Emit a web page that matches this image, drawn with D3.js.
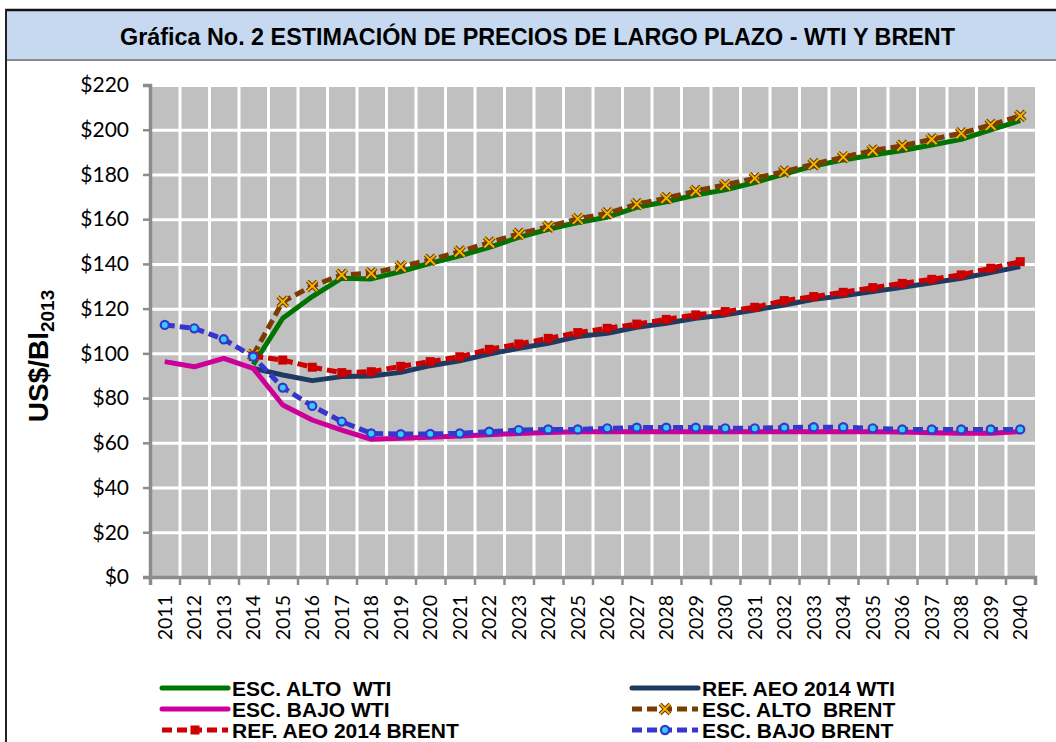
<!DOCTYPE html>
<html>
  <head>
    <meta charset="utf-8">
    <script src="https://cdn.jsdelivr.net/npm/d3@7"></script>

    <style>
      body {
        margin: 0;
        background: white;
      }
      .title {
        font-family: "Liberation Sans", Arial, sans-serif;
        font-weight: bold;
        font-size: 23px;
      }
      .tick text {
        font-family: Lato, "Open Sans", sans-serif;
        fill: black;
      }
      .legend text {
        font-family: "Liberation Sans", Arial, sans-serif;
        font-weight: bold;
        font-size: 21px;
        white-space: pre;
      }
    </style>
  </head>

  <body>
    <script type="text/javascript">

      // years on the x axis
      var years = d3.range(2011, 2041).map(String);

      // y axis ticks
      var yTicks = [0, 20, 40, 60, 80, 100, 120, 140, 160, 180, 200, 220];

      // series values, US$/Bl 2013, one per year (null = no data)
      var escAltoWti = [null, null, null, 95, 115.7, 125.4, 133.6, 133.3, 136.6, 140.3,
                        143.6, 147.4, 151.9, 155.5, 158.5, 160.9, 165.3, 167.8, 170.8, 173.1,
                        176.4, 180.2, 183.8, 186.5, 188.7, 190.7, 193.2, 195.7, 199.9, 204.1];
      var refWti = [null, null, null, 93.3, 90.3, 87.8, 89.6, 89.9, 91.5, 94.5,
                    96.7, 99.7, 102.3, 104.5, 107.5, 109, 111.7, 113.5, 115.7, 117.2,
                    119.4, 121.6, 124.2, 125.7, 127.6, 129.5, 131.6, 133.6, 136.1, 138.8];
      var escBajoWti = [96.3, 94, 97.8, 93.3, 76.9, 70.2, 65.7, 61.6, 62, 62.5,
                        63, 63.6, 64.2, 64.6, 65, 65, 65, 65, 65, 65,
                        65, 65, 65, 65, 65, 64.8, 64.5, 64.3, 64.3, 65];
      var escAltoBrent = [null, null, null, 99.3, 123.1, 130.1, 135.1, 135.8, 138.8, 141.8,
                          145.5, 149.5, 153.4, 156.7, 160.1, 162.6, 166.7, 169.4, 172.6, 175.3,
                          178.3, 181.3, 184.6, 187.7, 190.7, 192.8, 195.7, 198.4, 202.1, 206.2];
      var refBrent = [null, null, null, 98.8, 97, 93.8, 91.4, 91.8, 94.2, 96.3,
                      98.5, 101.8, 104.2, 106.7, 109.3, 111.2, 113.1, 115.2, 117.2, 118.7,
                      120.6, 123.6, 125.4, 127.3, 129.4, 131.3, 133.1, 135.1, 138.1, 141];
      var escBajoBrent = [112.7, 111.2, 106.3, 98.5, 84.7, 76.5, 69.5, 64.2, 63.9, 64,
                          64.2, 65, 65.7, 66, 66, 66.5, 66.8, 66.8, 66.8, 66.5,
                          66.5, 66.8, 67, 67, 66.5, 66, 66, 66, 66, 66];

      // series in legend order (two columns, filled row by row)
      var series = [
        {name: "ESC. ALTO  WTI", values: escAltoWti, color: "#007400", dash: null, marker: null},
        {name: "REF. AEO 2014 WTI", values: refWti, color: "#1f3a60", dash: null, marker: null},
        {name: "ESC. BAJO WTI", values: escBajoWti, color: "#cc0099", dash: null, marker: null},
        {name: "ESC. ALTO  BRENT", values: escAltoBrent, color: "#7a3c00", dash: "10,5", marker: "x"},
        {name: "REF. AEO 2014 BRENT", values: refBrent, color: "#cc0000", dash: "10,5", marker: "square"},
        {name: "ESC. BAJO BRENT", values: escBajoBrent, color: "#3636cc", dash: "10,5", marker: "circle"}
      ];

      var W = 1056, H = 742;
      var margin = {left: 150, top: 85},
          width = 885,
          height = 492;

      var svg = d3.select("body")
        .append("svg")
          .attr("width", W)
          .attr("height", H);

      // frame and title bar
      svg.append("rect")
        .attr("x", 6).attr("y", 10)
        .attr("width", W).attr("height", 50)
        .attr("fill", "#c6d9f1");
      svg.append("line")
        .attr("x1", 5).attr("x2", W).attr("y1", 10).attr("y2", 10)
        .attr("stroke", "#111").attr("stroke-width", 2.5);
      svg.append("line")
        .attr("x1", 5).attr("x2", W).attr("y1", 60).attr("y2", 60)
        .attr("stroke", "#8a8a8a").attr("stroke-width", 2);
      svg.append("line")
        .attr("x1", 6).attr("x2", 6).attr("y1", 9).attr("y2", H)
        .attr("stroke", "#222").attr("stroke-width", 2);

      // title, squeezed to look like a narrow bold face
      svg.append("text")
        .attr("class", "title")
        .attr("x", 120).attr("y", 45)
        .attr("textLength", 835)
        .attr("lengthAdjust", "spacingAndGlyphs")
        .text("Gráfica No. 2 ESTIMACIÓN DE PRECIOS DE LARGO PLAZO - WTI Y BRENT");

      var g = svg.append("g")
        .attr("transform", "translate(" + margin.left + "," + margin.top + ")");

      // scales
      var x = d3.scaleBand().domain(years).range([0, width]);
      var xb = d3.scaleLinear().domain([0, years.length]).range([0, width]); // category boundaries
      var y = d3.scaleLinear().domain([0, 220]).range([height, 0]);

      g.append("rect")
        .attr("width", width).attr("height", height)
        .attr("fill", "#c0c0c0");

      // white grid
      g.append("g")
        .call(d3.axisLeft(y).tickValues(yTicks).tickSize(-width).tickFormat(""))
        .call(function (a) { a.select(".domain").remove(); })
        .selectAll("line").attr("stroke", "white").attr("stroke-width", 3);
      g.append("g")
        .call(d3.axisBottom(xb).tickValues(d3.range(1, years.length)).tickSize(height).tickFormat(""))
        .call(function (a) { a.select(".domain").remove(); })
        .selectAll("line").attr("stroke", "white").attr("stroke-width", 3);

      // y axis
      var yAxis = g.append("g")
        .call(d3.axisLeft(y).tickValues(yTicks).tickSize(7).tickPadding(14)
          .tickFormat(function (d) { return "$" + d; }));
      yAxis.selectAll("text").style("font-size", "21px");

      // x axis: ticks between categories, labels at centers
      var xTickAxis = g.append("g")
        .attr("transform", "translate(0," + height + ")")
        .call(d3.axisBottom(xb).tickValues(d3.range(0, years.length + 1)).tickSize(8).tickFormat(""));
      var xAxis = g.append("g")
        .attr("transform", "translate(0," + height + ")")
        .call(d3.axisBottom(x).tickSize(0));
      xAxis.select(".domain").remove();
      xAxis.selectAll("text")
        .attr("transform", "rotate(-90)")
        .attr("x", -18).attr("y", 0).attr("dy", "0.36em")
        .style("text-anchor", "end")
        .style("font-size", "19.5px");

      [yAxis, xTickAxis].forEach(function (a) {
        a.select(".domain").attr("stroke", "#8c8c8c").attr("stroke-width", 3.5);
        a.selectAll(".tick line").attr("stroke", "#8c8c8c").attr("stroke-width", 2.5);
      });

      // lines
      var line = d3.line()
        .defined(function (d) { return d != null; })
        .x(function (d, i) { return x(years[i]) + x.bandwidth() / 2; })
        .y(function (d) { return y(d); });

      function drawMarker(sel, kind, color, size) {
        if (kind === "circle") {
          sel.append("circle").attr("r", size * 0.45)
            .attr("fill", "#33ccff").attr("stroke", color).attr("stroke-width", 2.2);
        } else if (kind === "square") {
          sel.append("rect").attr("x", -size / 2).attr("y", -size / 2)
            .attr("width", size).attr("height", size).attr("fill", color);
        } else if (kind === "x") {
          sel.append("path")
            .attr("d", d3.symbol(d3.symbolX, size * size * 0.8)())
            .attr("stroke", "#6b3400").attr("stroke-width", 4).attr("fill", "none");
          sel.append("path")
            .attr("d", d3.symbol(d3.symbolX, size * size * 0.8)())
            .attr("stroke", "#f2b400").attr("stroke-width", 2).attr("fill", "none");
        }
      }

      series.forEach(function (s) {
        g.append("path")
          .datum(s.values)
          .attr("fill", "none")
          .attr("stroke", s.color)
          .attr("stroke-width", 5)
          .attr("stroke-linejoin", "round")
          .attr("stroke-dasharray", s.dash)
          .attr("d", line);
        if (s.marker) {
          s.values.forEach(function (v, i) {
            if (v == null) return;
            var m = g.append("g")
              .attr("transform", "translate(" + (x(years[i]) + x.bandwidth() / 2) + "," + y(v) + ")");
            drawMarker(m, s.marker, s.color, 9);
          });
        }
      });

      // y axis title
      var yt = svg.append("text")
        .attr("transform", "translate(48,356) rotate(-90)")
        .attr("text-anchor", "middle")
        .style("font-family", "'Liberation Sans', Arial, sans-serif")
        .style("font-weight", "bold")
        .style("font-size", "28px");
      yt.append("tspan").text("US$/Bl");
      yt.append("tspan").attr("dy", 6).style("font-size", "19px").text("2013");

      // legend
      var legend = svg.append("g").attr("class", "legend");
      var cols = [162, 632], rows = [688, 709, 730];
      series.forEach(function (s, k) {
        var lx = cols[k % 2], ly = rows[Math.floor(k / 2)];
        var item = legend.append("g").attr("transform", "translate(" + lx + "," + ly + ")");
        item.append("line")
          .attr("x1", 0).attr("x2", 66)
          .attr("stroke", s.color).attr("stroke-width", 5)
          .attr("stroke-linecap", s.dash ? "butt" : "round")
          .attr("stroke-dasharray", s.dash);
        if (s.marker) {
          var m = item.append("g").attr("transform", "translate(33,0)");
          drawMarker(m, s.marker, s.color, 9);
        }
        item.append("text")
          .attr("x", 70).attr("dy", "0.36em")
          .text(s.name);
      });

    </script>
  </body>
</html>
